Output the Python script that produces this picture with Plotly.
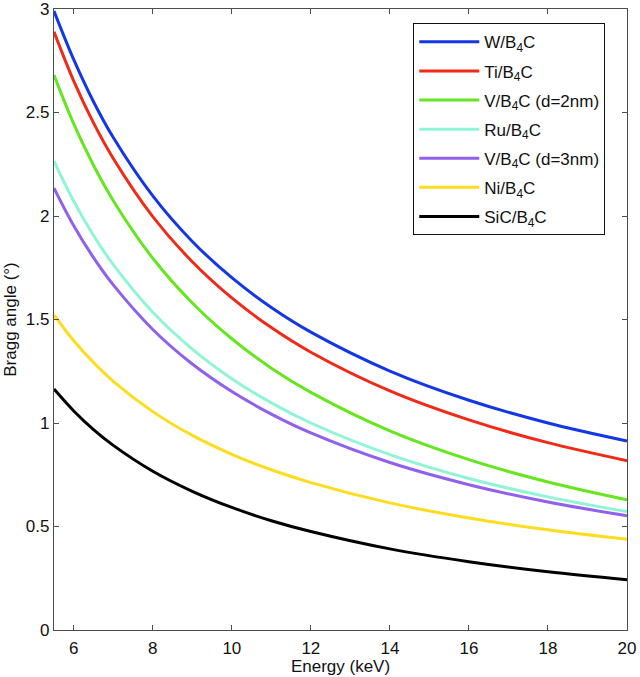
import plotly.graph_objects as go

energy = [5.5, 6, 6.5, 7, 8, 9, 10, 11, 12, 14, 16, 18, 20]

w_b4c = [2.99, 2.755, 2.552, 2.379, 2.097, 1.877, 1.702, 1.558, 1.439, 1.251, 1.110, 1.000, 0.913]
ti_b4c = [2.890, 2.652, 2.450, 2.278, 1.997, 1.779, 1.604, 1.461, 1.342, 1.155, 1.015, 0.905, 0.818]
v_b4c_2nm = [2.681, 2.445, 2.245, 2.074, 1.796, 1.580, 1.407, 1.265, 1.148, 0.962, 0.823, 0.715, 0.629]
ru_b4c = [2.265, 2.071, 1.906, 1.765, 1.535, 1.357, 1.214, 1.097, 1.000, 0.847, 0.732, 0.643, 0.572]
v_b4c_3nm = [2.135, 1.953, 1.799, 1.667, 1.452, 1.285, 1.152, 1.043, 0.952, 0.809, 0.702, 0.618, 0.552]
ni_b4c = [1.522, 1.397, 1.292, 1.201, 1.055, 0.940, 0.849, 0.774, 0.712, 0.614, 0.541, 0.484, 0.438]
sic_b4c = [1.164, 1.058, 0.968, 0.892, 0.767, 0.670, 0.592, 0.528, 0.476, 0.392, 0.330, 0.281, 0.243]

names = ["W/B<sub>4</sub>C", "Ti/B<sub>4</sub>C", "V/B<sub>4</sub>C (d=2nm)", "Ru/B<sub>4</sub>C",
         "V/B<sub>4</sub>C (d=3nm)", "Ni/B<sub>4</sub>C", "SiC/B<sub>4</sub>C"]
series = [w_b4c, ti_b4c, v_b4c_2nm, ru_b4c, v_b4c_3nm, ni_b4c, sic_b4c]
colors = ["#1437e6", "#f02a17", "#66e61e", "#8ff5d6", "#9060ee", "#ffdc1e", "#000000"]

x_ticks = [6, 8, 10, 12, 14, 16, 18, 20]
y_ticks = [0, 0.5, 1, 1.5, 2, 2.5, 3]
y_tick_labels = ["0", "0.5", "1", "1.5", "2", "2.5", "3"]

fig = go.Figure()
for i, (nm, ys, c) in enumerate(zip(names, series, colors)):
    fig.add_trace(go.Scatter(x=energy, y=ys, mode="lines", name=nm,
                             line=dict(color=c, width=3, shape="spline", smoothing=1.0),
                             legendgroup=f"g{i}"))

axis_common = dict(showline=True, linecolor="#4d4d4d", linewidth=1.2, mirror="ticks",
                   ticks="inside", ticklen=5, tickcolor="#4d4d4d", showgrid=False,
                   zeroline=False, automargin=False, ticklabeloverflow="allow",
                   tickfont=dict(size=17, color="#111111"))

fig.update_layout(
    width=640, height=677,
    margin=dict(l=54, r=13, t=9, b=47),
    paper_bgcolor="white", plot_bgcolor="white",
    font=dict(family="Liberation Sans, Arial, sans-serif", color="#111111"),
    xaxis=dict(range=[5.5, 20], tickvals=x_ticks, ticklabelstandoff=2,
               title=dict(text="Energy (keV)", font=dict(size=17), standoff=2), **axis_common),
    yaxis=dict(range=[0, 3], tickvals=y_ticks, ticktext=y_tick_labels,
               title=dict(text="Bragg angle (°)", font=dict(size=17), standoff=4), **axis_common),
    legend=dict(x=0.627, y=0.977, xanchor="left", yanchor="top",
                bordercolor="#111111", borderwidth=1, bgcolor="white",
                font=dict(size=17), tracegroupgap=4, itemwidth=60),
)

fig.write_html("out.html", config={"displayModeBar": False},
               post_script="document.body.style.margin='0';")
